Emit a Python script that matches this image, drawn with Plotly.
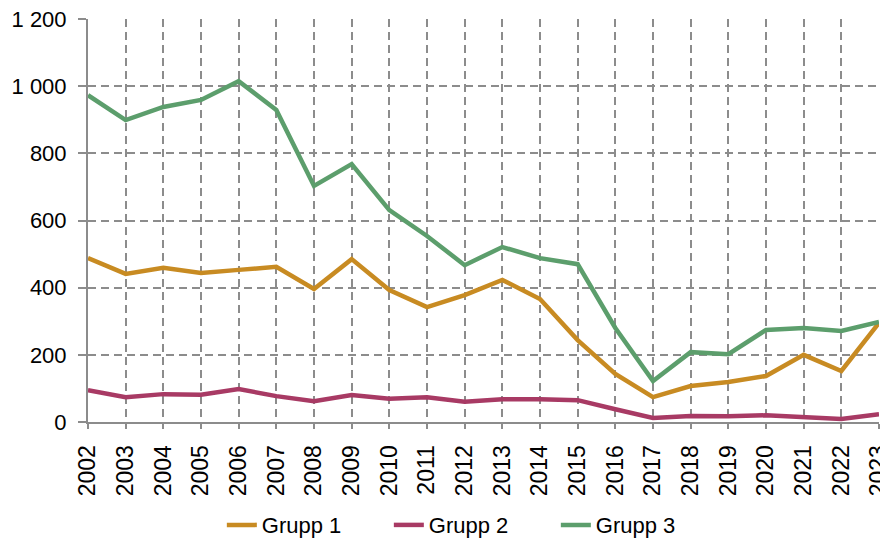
import plotly.graph_objects as go

years = [str(y) for y in range(2002, 2024)]
grupp1 = [488, 441, 459, 444, 453, 462, 396, 485, 393, 342, 378, 423, 366, 244, 143, 74, 107, 119, 137, 200, 152, 295]
grupp2 = [95, 74, 83, 81, 98, 77, 62, 80, 69, 74, 60, 68, 68, 65, 38, 12, 18, 17, 20, 16, 9, 23]
grupp3 = [973, 899, 938, 959, 1015, 929, 703, 768, 631, 554, 467, 521, 488, 470, 280, 122, 208, 202, 274, 280, 271, 298]
y_ticks = [0, 200, 400, 600, 800, 1000, 1200]
y_labels = ["0", "200", "400", "600", "800", "1 000", "1 200"]

series = [("Grupp 1", grupp1, "#C88B22"), ("Grupp 2", grupp2, "#A83A64"), ("Grupp 3", grupp3, "#5C9E6C")]

fig = go.Figure()
for name, vals, col in series:
    fig.add_trace(go.Scatter(x=years, y=vals, name=name, mode="lines",
                             line=dict(color=col, width=4.5)))

grid = dict(showgrid=True, gridcolor="#8C8C8C", gridwidth=1.5, griddash="8px,5px")
fig.update_layout(
    width=880, height=532,
    margin=dict(l=80, r=9, t=11, b=118, autoexpand=False),
    plot_bgcolor="white", paper_bgcolor="white",
    font=dict(family="Liberation Sans, Arial, sans-serif", size=23, color="black"),
    xaxis=dict(type="category", range=[0, 21], tickangle=-90, showline=True, automargin=False,
               linecolor="#8C8C8C", linewidth=2, ticks="outside", ticklen=5,
               tickcolor="#8C8C8C", tickwidth=1.5, tickfont=dict(size=23),
               ticklabelstandoff=7, ticklabeloverflow="allow", **grid),
    yaxis=dict(range=[0, 1200], tickvals=y_ticks, ticktext=y_labels, showline=True, automargin=False,
               linecolor="#8C8C8C", linewidth=2, ticks="outside", ticklen=8,
               tickcolor="#8C8C8C", tickwidth=1.5, zeroline=False, ticklabelstandoff=7,
               tickfont=dict(size=22), ticklabeloverflow="allow", **grid),
    legend=dict(orientation="h", xref="container", yref="container", x=0.243, xanchor="left",
                y=0.028, yanchor="middle", font=dict(size=22), entrywidth=122,
                entrywidthmode="pixels"),
    showlegend=True,
)
fig.write_html("out.html")
